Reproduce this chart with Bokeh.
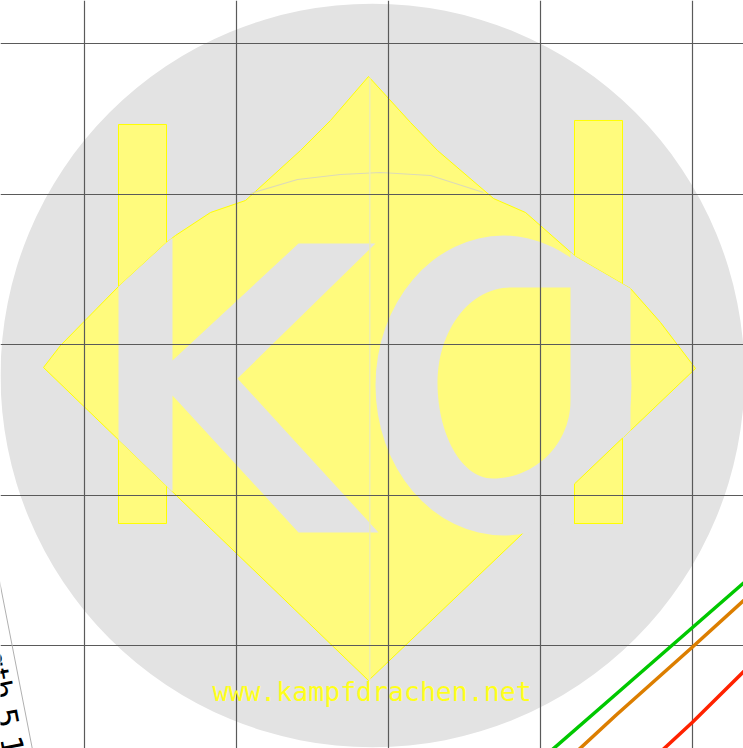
import numpy as np
from bokeh.plotting import figure
from bokeh.models import Range1d, FixedTicker, Label, Grid, GlobalInlineStyleSheet
from bokeh.embed import file_html
from bokeh.resources import INLINE

# ---------------- data ----------------
grid_ticks_x = [1, 2, 3, 4, 5]
grid_ticks_y = [1, 2, 3, 4, 5]

green_x = [4.0, 4.5, 5.0, 5.5]
green_y = [0.24, 0.68, 1.12, 1.56]
orange_x = [4.2, 4.5, 5.0, 5.5]
orange_y = [0.26, 0.54, 0.99, 1.45]
red_x = [4.7, 5.0, 5.5]
red_y = [0.21, 0.49, 0.99]

series_colors = ["#00c800", "#dc7e00", "#ff2200"]

side_label = "Length 5 10"
watermark = "www.kampfdrachen.net"

# ------------- view / scale -------------
X_LO, X_HI = 0.4493, 5.3375
Y_LO, Y_HI = 0.3176, 5.2877

# logo geometry is given in screen pixels of the frame and mapped to data
def lx(px):
    return 1 + (np.asarray(px, dtype=float) - 83.7) / 152.0

def ly(py):
    return 1 + (645.3 - np.asarray(py, dtype=float)) / 150.5

def poly(pts):
    a = np.array(pts, dtype=float)
    return lx(a[:, 0]), ly(a[:, 1])

def arc_pts(cx, cy, rx, ry, a0, a1, n=30):
    t = np.radians(np.linspace(a0, a1, n))
    return list(zip(cx + rx * np.cos(t), cy - ry * np.sin(t)))

p = figure(width=743, height=748, x_range=Range1d(X_LO, X_HI), y_range=Range1d(Y_LO, Y_HI),
           x_axis_type=None, y_axis_type=None, output_backend="svg",
           toolbar_location=None, min_border=0)
p.outline_line_color = None
p.background_fill_color = "white"
p.border_fill_color = "white"
p.stylesheets.append(GlobalInlineStyleSheet(css="html, body { margin: 0 !important; padding: 0; overflow: hidden; }"))

GRAY = "#e3e3e3"
YEL = "#fffb7d"
YEL_LINE = "#ffff00"

# circle
p.ellipse(x=lx(372), y=ly(375), width=2 * 372 / 152.0, height=2 * 372 / 150.5,
          fill_color=GRAY, line_color=None, level="image")

# bars
for bar in ([(118, 124), (166, 124), (166, 523), (118, 523)],
            [(574, 120), (622, 120), (622, 523), (574, 523)]):
    bx, by = poly(bar)
    p.patch(bx, by, fill_color=YEL, line_color=YEL_LINE, line_width=1, level="image")

# kite body
body = [(368, 76), (410, 122), (437, 150), (493, 198), (525, 212), (575, 256), (630, 288),
        (660, 322), (695, 368), (368, 680), (43, 367), (60, 345), (118, 286), (166, 242),
        (175, 235), (210, 212), (245, 200), (300, 150), (330, 120)]
bx, by = poly(body)
p.patch(bx, by, fill_color=YEL, line_color=YEL_LINE, line_width=1, level="image")

# letter K
k_shape = [(118, 286), (166, 242), (172, 237.3), (172, 360), (298, 243), (375, 243), (237, 378),
           (378, 532), (298, 532), (172, 395), (172, 491.2), (118, 439.2)]
kx, ky = poly(k_shape)
p.patch(kx, ky, fill_color=GRAY, line_color=None, level="image")

# letter a : bowl, stem, counter
p.ellipse(x=lx(503), y=ly(385), width=256 / 152.0, height=300 / 150.5,
          fill_color=GRAY, line_color=None, level="image")
a_stem = [(570, 251.6), (575, 256), (630, 288), (630, 430), (570, 487.3)]
sx, sy = poly(a_stem)
p.patch(sx, sy, fill_color=GRAY, line_color=None, level="image")
counter = ([(570, 287)] + arc_pts(510, 382, 73, 95, 90, 180)
           + arc_pts(492, 382, 55, 96, 180, 270) + arc_pts(492, 400, 78, 78, 270, 360))
cx_, cy_ = poly(counter)
p.patch(cx_, cy_, fill_color=YEL, line_color=None, level="image")

# bar bottom part over the a bowl
bb = [(574, 483.4), (622, 437.6), (622, 523), (574, 523)]
bx, by = poly(bb)
p.patch(bx, by, fill_color=YEL, line_color=YEL_LINE, line_width=1, level="image")

# faint bow arc and spine
arc = [(250, 193), (297, 179), (340, 174), (380, 172), (430, 175), (483, 192)]
ax_, ay_ = poly(arc)
p.line(ax_, ay_, line_color="#dcdab8", line_width=1.2, level="image")
p.line(lx([369.3, 369.3]), ly([77, 680]), line_color="#eeeeb4", line_width=1.5, level="image")

# grids (above the logo)
p.add_layout(Grid(dimension=0, ticker=FixedTicker(ticks=grid_ticks_x),
                  grid_line_color="#5a5a5a", grid_line_width=1.2))
p.add_layout(Grid(dimension=1, ticker=FixedTicker(ticks=grid_ticks_y),
                  grid_line_color="#5a5a5a", grid_line_width=1.2))

# data lines
for xs, ys, c in ((green_x, green_y, series_colors[0]),
                  (orange_x, orange_y, series_colors[1]),
                  (red_x, red_y, series_colors[2])):
    p.line(xs, ys, line_color=c, line_width=3.5)

# watermark text
p.add_layout(Label(x=lx(212), y=ly(691), text=watermark, text_font="DejaVu Sans Mono",
                   text_font_size="26.5px", text_color="#ffff1a", text_baseline="middle",
                   text_align="left"))

# rotated label and thin border line
p.line(lx([-5, 40]), ly([560, 790]), line_color="#b0b0b0", line_width=1)
p.add_layout(Label(x=lx(-17), y=ly(597), text=side_label, angle=-1.3797,
                   text_font="DejaVu Sans", text_font_size="30px", text_color="black",
                   text_baseline="alphabetic", text_align="left"))

open("out.html", "w").write(file_html(p, INLINE))
